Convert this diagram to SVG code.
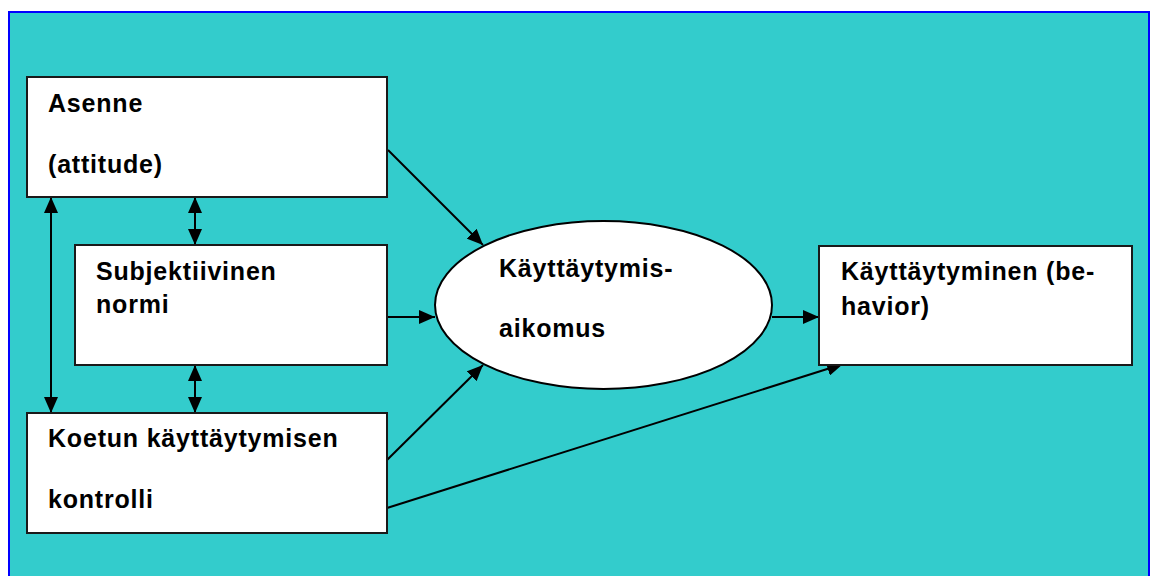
<svg xmlns="http://www.w3.org/2000/svg" width="1150" height="576" viewBox="0 0 1150 576">
<style>
.box{fill:#fff;stroke:#1a1a1a;stroke-width:2}
.t{font-family:"Liberation Sans",Arial,sans-serif;font-weight:bold;font-size:25px;letter-spacing:0.8px;fill:#000}
.c{stroke:#000;stroke-width:2;fill:none}
</style>
<defs>
<marker id="ah" viewBox="0 0 16 14" refX="16" refY="7" markerWidth="16" markerHeight="14" markerUnits="userSpaceOnUse" orient="auto-start-reverse">
<path d="M0,0 L16,7 L0,14 Z" fill="#000"/>
</marker>
</defs>
<rect width="1150" height="576" fill="#fff"/>
<rect x="9" y="12" width="1140" height="580" fill="#33cccc" stroke="#0000ff" stroke-width="2"/>
<g id="connectors">
<line class="c" x1="388" y1="150" x2="483" y2="245" marker-end="url(#ah)"/>
<line class="c" x1="387" y1="317" x2="435" y2="317" marker-end="url(#ah)"/>
<line class="c" x1="387" y1="460" x2="483" y2="365" marker-end="url(#ah)"/>
<line class="c" x1="772" y1="317" x2="819" y2="317" marker-end="url(#ah)"/>
<line class="c" x1="387" y1="508" x2="843" y2="364" marker-end="url(#ah)"/>
<line class="c" x1="51" y1="197" x2="51" y2="413" marker-start="url(#ah)" marker-end="url(#ah)"/>
<line class="c" x1="195" y1="197" x2="195" y2="245" marker-start="url(#ah)" marker-end="url(#ah)"/>
<line class="c" x1="195" y1="365" x2="195" y2="413" marker-start="url(#ah)" marker-end="url(#ah)"/>
</g>
<g id="asenne">
<rect class="box" x="27" y="77" width="360" height="120"/>
<text class="t" x="48" y="112">Asenne</text>
<text class="t" x="48" y="173">(attitude)</text>
</g>
<g id="normi">
<rect class="box" x="75" y="245" width="312" height="120"/>
<text class="t" x="96" y="280">Subjektiivinen</text>
<text class="t" x="96" y="313">normi</text>
</g>
<g id="kontrolli">
<rect class="box" x="27" y="413" width="360" height="120"/>
<text class="t" x="48" y="447">Koetun käyttäytymisen</text>
<text class="t" x="48" y="508">kontrolli</text>
</g>
<g id="aikomus">
<ellipse cx="603.5" cy="305" rx="168.5" ry="84" fill="#fff" stroke="#000" stroke-width="2"/>
<text class="t" x="499" y="277">Käyttäytymis-</text>
<text class="t" x="499" y="337">aikomus</text>
</g>
<g id="behavior">
<rect class="box" x="819" y="246" width="313" height="119"/>
<text class="t" x="841" y="280">Käyttäytyminen (be-</text>
<text class="t" x="841" y="315">havior)</text>
</g>
</svg>
